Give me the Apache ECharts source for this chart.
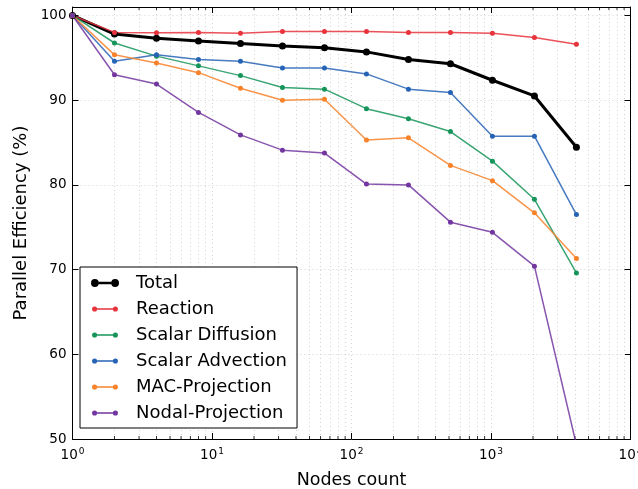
<!DOCTYPE html>
<html>
<head>
<meta charset="utf-8">
<style>
  html, body { margin: 0; padding: 0; background: #fff; }
  #chart { width: 638px; height: 489px; }
</style>
<script src="https://cdn.jsdelivr.net/npm/echarts@6/dist/echarts.min.js"></script>
</head>
<body>
<div id="chart"></div>
<script>
// Node counts (x) and parallel efficiency (%) per solver component
const nodes = [1, 2, 4, 8, 16, 32, 64, 128, 256, 512, 1024, 2048, 4096];
const total = [100, 97.8, 97.3, 97.0, 96.7, 96.4, 96.2, 95.7, 94.8, 94.3, 92.35, 90.5, 84.45];
const reaction = [100, 98.0, 97.95, 98.0, 97.9, 98.1, 98.1, 98.1, 98.0, 98.0, 97.9, 97.4, 96.6];
const scalarDiffusion = [100, 96.75, 95.2, 94.05, 92.9, 91.5, 91.3, 89.0, 87.8, 86.3, 82.8, 78.3, 69.6];
const scalarAdvection = [100, 94.6, 95.35, 94.8, 94.6, 93.8, 93.8, 93.1, 91.3, 90.9, 85.75, 85.75, 76.5];
const macProjection = [100, 95.35, 94.4, 93.25, 91.4, 90.0, 90.1, 85.3, 85.55, 82.3, 80.5, 76.7, 71.3];
const nodalProjection = [100, 93.0, 91.9, 88.55, 85.9, 84.1, 83.75, 80.1, 80.0, 75.6, 74.4, 70.4, 49.3];

// Minor positions of the log axis (2..9 in every decade)
const minorX = [];
for (let d = 1; d < 10000; d *= 10) {
  for (let k = 2; k <= 9; k++) minorX.push(d * k);
}

const FONT = 'DejaVu Sans';

function circ(cx, cy, r) {
  return 'M' + (cx - r) + ',' + cy + 'a' + r + ',' + r + ' 0 1,0 ' + (2 * r) + ',0' +
         'a' + r + ',' + r + ' 0 1,0 ' + (-2 * r) + ',0Z';
}
// Legend glyph: a line segment with a marker at each end
function legendIcon(r, t) {
  const y0 = 5 - t / 2, y1 = 5 + t / 2;
  const xa = 5 + r - 0.05, xb = 31 - r + 0.05;
  return 'path://M15,0L15.01,0L15,0.01Z M15,10L15.01,10L15,9.99Z ' +
    circ(5, 5, r) + ' ' + circ(31, 5, r) +
    ' M' + xa + ',' + y0 + 'H' + xb + 'V' + y1 + 'H' + xa + 'Z';
}

const seriesDefs = [
  { name: 'Total', data: total, color: '#000000', width: 3, size: 7 },
  { name: 'Reaction', data: reaction, color: '#e8323c', width: 1.5, size: 5 },
  { name: 'Scalar Diffusion', data: scalarDiffusion, color: '#16955a', width: 1.5, size: 5 },
  { name: 'Scalar Advection', data: scalarAdvection, color: '#2763b5', width: 1.5, size: 5 },
  { name: 'MAC-Projection', data: macProjection, color: '#f7822a', width: 1.5, size: 5 },
  { name: 'Nodal-Projection', data: nodalProjection, color: '#7236a0', width: 1.5, size: 5 }
];

const gridLine = { show: true, lineStyle: { color: '#d2d2d2', type: [1, 3], width: 1 } };

const series = seriesDefs.map((s, i) => ({
  name: s.name,
  type: 'line',
  data: nodes.map((n, j) => [n, s.data[j]]),
  symbol: 'circle',
  symbolSize: s.size,
  showSymbol: true,
  clip: true,
  z: 3,
  z2: 10 - i,
  itemStyle: { color: s.color },
  lineStyle: { color: s.color, width: s.width, opacity: s.width > 2 ? 1 : 0.85 },
  emphasis: { disabled: true },
  animation: false
}));

// Dotted vertical grid lines at the minor log positions
series.push({
  name: 'minorGrid',
  type: 'line',
  data: [],
  silent: true,
  z: 1,
  markLine: {
    silent: true,
    z: 1,
    symbol: 'none',
    label: { show: false },
    lineStyle: { color: '#d2d2d2', type: [1, 3], width: 1 },
    data: minorX.map(v => ({ xAxis: v }))
  },
  animation: false
});

// Short inward minor ticks on the bottom and top spines
const minorTick = (y, off) => ({
  type: 'scatter',
  data: minorX.map(v => [v, y]),
  symbol: 'rect',
  symbolSize: [1, 3],
  symbolOffset: [0, off],
  itemStyle: { color: '#000' },
  silent: true,
  clip: false,
  z: 2,
  animation: false
});
series.push(minorTick(50, -1.5));
series.push(minorTick(101, 1.5));

const supLabel = {
  fontFamily: FONT,
  color: '#000',
  margin: 8,
  formatter: v => '{b|10}{s|' + Math.round(Math.log10(v)) + '}',
  rich: {
    b: { fontFamily: FONT, fontSize: 13.5, color: '#000' },
    s: { fontFamily: FONT, fontSize: 9, color: '#000', padding: [0, 0, 7, 1] }
  }
};

const option = {
  backgroundColor: '#ffffff',
  animation: false,
  textStyle: { fontFamily: FONT },
  grid: { left: 72.5, right: 7.5, top: 7, bottom: 50, containLabel: false, outerBoundsMode: 'none' },
  legend: {
    left: 80,
    top: 267,
    z: 6,
    orient: 'vertical',
    itemWidth: 28,
    itemHeight: 8,
    itemGap: 8,
    padding: [7, 10, 6, 11],
    backgroundColor: '#ffffff',
    borderColor: '#000000',
    borderWidth: 1,
    borderRadius: 0,
    selectedMode: false,
    itemStyle: { borderWidth: 0 },
    textStyle: { fontFamily: FONT, fontSize: 18, color: '#000', lineHeight: 17, padding: [0, 0, 0, 12] },
    data: seriesDefs.map(s => ({
      name: s.name,
      icon: s.width > 2 ? legendIcon(5, 3.2) : legendIcon(3.2, 1.6)
    }))
  },
  xAxis: [
    {
      type: 'log',
      logBase: 10,
      min: 1,
      max: 10000,
      name: 'Nodes count',
      nameLocation: 'middle',
      nameGap: 32,
      nameTextStyle: { fontFamily: FONT, fontSize: 17.5, color: '#000' },
      axisLine: { show: true, onZero: false, lineStyle: { color: '#000', width: 1 } },
      axisTick: { show: true, inside: true, length: 6, lineStyle: { color: '#000' } },
      axisLabel: supLabel,
      splitLine: gridLine
    },
    {
      type: 'log',
      logBase: 10,
      min: 1,
      max: 10000,
      position: 'top',
      axisLine: { show: true, onZero: false, lineStyle: { color: '#000', width: 1 } },
      axisTick: { show: true, inside: true, length: 6, lineStyle: { color: '#000' } },
      axisLabel: { show: false },
      splitLine: { show: false }
    }
  ],
  yAxis: [
    {
      type: 'value',
      min: 50,
      max: 101,
      interval: 10,
      name: 'Parallel Efficiency (%)',
      nameLocation: 'middle',
      nameGap: 34,
      nameTextStyle: { fontFamily: FONT, fontSize: 18, color: '#000' },
      axisLine: { show: true, onZero: false, lineStyle: { color: '#000', width: 1 } },
      axisTick: { show: true, inside: true, length: 6, lineStyle: { color: '#000' } },
      axisLabel: {
        fontFamily: FONT, fontSize: 13.5, color: '#000', margin: 6,
        showMaxLabel: false,
        formatter: v => (v % 10 === 0 ? String(v) : '')
      },
      splitLine: gridLine
    },
    {
      type: 'value',
      min: 50,
      max: 101,
      interval: 10,
      position: 'right',
      axisLine: { show: true, onZero: false, lineStyle: { color: '#000', width: 1 } },
      axisTick: { show: true, inside: true, length: 6, lineStyle: { color: '#000' } },
      axisLabel: { show: false },
      splitLine: { show: false }
    }
  ],
  series: series
};

const chart = echarts.init(document.getElementById('chart'), null, { renderer: 'canvas' });
chart.setOption(option);
</script>
</body>
</html>
